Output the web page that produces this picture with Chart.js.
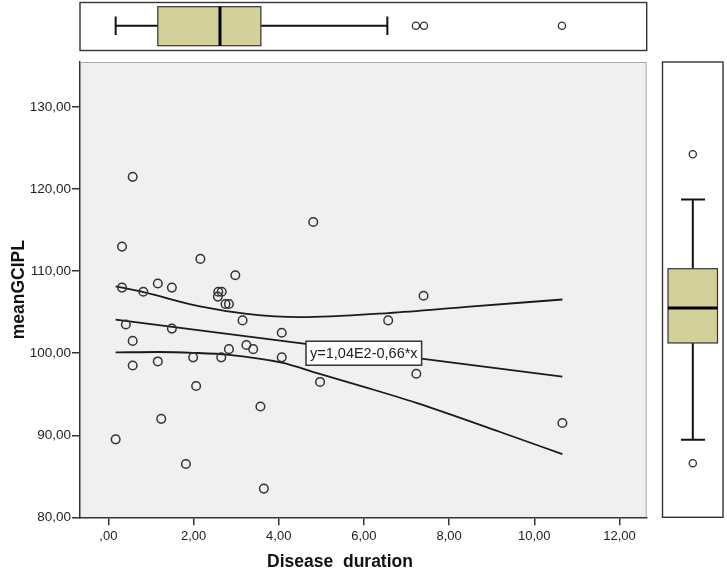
<!DOCTYPE html>
<html>
<head>
<meta charset="utf-8">
<script src="https://cdn.jsdelivr.net/npm/chart.js@4.4.1/dist/chart.umd.min.js"></script>
<style>
  html, body { margin: 0; padding: 0; background: #fff; }
  #wrap { width: 727px; height: 572px; }
</style>
</head>
<body>
<div id="wrap"><canvas id="scatter" width="727" height="572"></canvas></div>
<script>
// values
const duration = [0.57, 4.81, 0.32, 2.16, 2.98, 0.32, 0.82, 1.16, 1.49, 2.58,
                  2.66, 2.57, 2.75, 2.83, 3.15, 0.41, 1.49, 4.07, 0.57, 2.83,
                  3.24, 3.40, 1.99, 2.65, 4.07, 0.57, 1.16, 4.97, 2.06, 3.57,
                  1.24, 0.17, 1.82, 3.65, 7.40, 6.57, 7.23, 10.66];
const gcipl = [121.5, 116.0, 113.0, 111.5, 109.5, 108.0, 107.5, 108.5, 108.0, 107.5,
               107.5, 106.9, 106.0, 106.0, 104.0, 103.5, 103.0, 102.5, 101.5, 100.5,
               101.0, 100.5, 99.5, 99.5, 99.5, 98.5, 99.0, 96.5, 96.0, 93.5,
               92.0, 89.5, 86.5, 83.5, 107.0, 104.0, 97.5, 91.5];

// fit line and mean confidence bands
const fitX = [0.17, 10.66];
const fitY = [104.1, 97.15];
const upperX = [0.17, 0.82, 2.15, 3.25, 4.50, 6.57, 8.41, 10.66];
const upperY = [108.15, 107.45, 105.7, 104.8, 104.4, 104.9, 105.65, 106.55];
const lowerX = [0.17, 1.16, 1.99, 2.83, 4.07, 4.94, 6.0, 7.23, 9.20, 10.66];
const lowerY = [100.1, 100.15, 100.05, 99.8, 98.85, 97.5, 95.9, 93.95, 90.4, 87.7];
const fitLabel = 'y=1,04E2-0,66*x';
const fitLabelAt = [4.64, 100.0];

// box plots: [lower whisker, q1, median, q3, upper whisker]
const durationBox = [0.17, 1.16, 2.62, 3.58, 6.55];
const durationOutliers = [7.22, 7.41, 10.65];
const gciplBox = [89.45, 101.25, 105.5, 110.3, 118.75];
const gciplOutliers = [86.6, 124.25];

// ticks
const xTicks = [0, 2, 4, 6, 8, 10, 12];
const yTicks = [80, 90, 100, 110, 120, 130];

const FONT = '"Liberation Sans", Arial, sans-serif';
const BOX_FILL = '#d4d09a';

function fmt(v) {
  if (v === 0) return ',00';
  return v.toFixed(2).replace('.', ',');
}

function pairs(xs, ys) {
  return xs.map((x, i) => ({ x: x, y: ys[i] }));
}

function circle(ctx, x, y, r) {
  ctx.beginPath();
  ctx.arc(x, y, r, 0, Math.PI * 2);
  ctx.fillStyle = '#fff';
  ctx.fill();
  ctx.stroke();
}

const panels = {
  id: 'panels',
  beforeDraw(chart) {
    const { ctx, chartArea: a } = chart;
    ctx.save();
    ctx.fillStyle = '#f0f0f0';
    ctx.fillRect(a.left, a.top, a.right - a.left, a.bottom - a.top);
    ctx.restore();
  },
  afterDraw(chart) {
    const { ctx, chartArea: a } = chart;
    const xs = chart.scales.x;
    const ys = chart.scales.y;
    ctx.save();

    // light frame on top/right of the plot
    ctx.strokeStyle = '#a8a8a8';
    ctx.lineWidth = 1;
    ctx.beginPath();
    ctx.moveTo(a.left, a.top + 0.5);
    ctx.lineTo(a.right - 0.5, a.top + 0.5);
    ctx.lineTo(a.right - 0.5, a.bottom);
    ctx.stroke();

    // fit label
    ctx.font = '14.5px ' + FONT;
    const tw = ctx.measureText(fitLabel).width;
    const lx = xs.getPixelForValue(fitLabelAt[0]);
    const ly = ys.getPixelForValue(fitLabelAt[1]);
    ctx.fillStyle = '#fff';
    ctx.fillRect(lx, ly - 12, tw + 8, 24);
    ctx.strokeStyle = '#333';
    ctx.lineWidth = 1.5;
    ctx.strokeRect(lx, ly - 12, tw + 8, 24);
    ctx.fillStyle = '#222';
    ctx.textBaseline = 'middle';
    ctx.textAlign = 'left';
    ctx.fillText(fitLabel, lx + 4, ly + 1);

    // axis titles
    ctx.font = 'bold 17.5px ' + FONT;
    ctx.fillStyle = '#111';
    ctx.textAlign = 'center';
    ctx.textBaseline = 'alphabetic';
    ctx.fillText('Disease  duration', 340, 567);
    ctx.save();
    ctx.translate(24, (a.top + a.bottom) / 2);
    ctx.rotate(-Math.PI / 2);
    ctx.fillText('meanGCIPL', 0, 0);
    ctx.restore();

    // top box plot panel (duration)
    ctx.fillStyle = '#fff';
    ctx.fillRect(a.left, 2.5, a.right - a.left, 48);
    ctx.strokeStyle = '#333';
    ctx.lineWidth = 1.4;
    ctx.strokeRect(a.left, 2.5, a.right - a.left, 48);
    const px = durationBox.map(v => xs.getPixelForValue(v));
    const midY = 25.7;
    ctx.lineWidth = 2;
    ctx.strokeStyle = '#111';
    ctx.beginPath();
    ctx.moveTo(px[0], midY); ctx.lineTo(px[1], midY);
    ctx.moveTo(px[3], midY); ctx.lineTo(px[4], midY);
    ctx.moveTo(px[0], 16.5); ctx.lineTo(px[0], 35);
    ctx.moveTo(px[4], 16.5); ctx.lineTo(px[4], 35);
    ctx.stroke();
    ctx.fillStyle = BOX_FILL;
    ctx.fillRect(px[1], 6.7, px[3] - px[1], 39);
    ctx.lineWidth = 1.2;
    ctx.strokeStyle = '#333';
    ctx.strokeRect(px[1], 6.7, px[3] - px[1], 39);
    ctx.lineWidth = 3;
    ctx.strokeStyle = '#000';
    ctx.beginPath();
    ctx.moveTo(px[2], 6.7); ctx.lineTo(px[2], 45.7);
    ctx.stroke();
    ctx.lineWidth = 1.3;
    ctx.strokeStyle = '#333';
    durationOutliers.forEach(v => circle(ctx, xs.getPixelForValue(v), midY, 3.6));

    // right box plot panel (meanGCIPL)
    const rl = 662.5, rr = 723;
    ctx.fillStyle = '#fff';
    ctx.fillRect(rl, a.top, rr - rl, a.bottom - a.top);
    ctx.strokeStyle = '#333';
    ctx.lineWidth = 1.4;
    ctx.strokeRect(rl, a.top, rr - rl, a.bottom - a.top);
    const py = gciplBox.map(v => ys.getPixelForValue(v));
    const midX = 692.8;
    ctx.lineWidth = 2;
    ctx.strokeStyle = '#111';
    ctx.beginPath();
    ctx.moveTo(midX, py[0]); ctx.lineTo(midX, py[1]);
    ctx.moveTo(midX, py[3]); ctx.lineTo(midX, py[4]);
    ctx.moveTo(681, py[0]); ctx.lineTo(705, py[0]);
    ctx.moveTo(681, py[4]); ctx.lineTo(705, py[4]);
    ctx.stroke();
    ctx.fillStyle = BOX_FILL;
    ctx.fillRect(668, py[3], 49.5, py[1] - py[3]);
    ctx.lineWidth = 1.2;
    ctx.strokeStyle = '#333';
    ctx.strokeRect(668, py[3], 49.5, py[1] - py[3]);
    ctx.lineWidth = 3;
    ctx.strokeStyle = '#000';
    ctx.beginPath();
    ctx.moveTo(668, py[2]); ctx.lineTo(717.5, py[2]);
    ctx.stroke();
    ctx.lineWidth = 1.3;
    ctx.strokeStyle = '#333';
    gciplOutliers.forEach(v => circle(ctx, midX, ys.getPixelForValue(v), 3.6));

    ctx.restore();
  }
};

const lineStyle = {
  type: 'line',
  showLine: true,
  pointRadius: 0,
  borderColor: '#1a1a1a',
  borderWidth: 1.8,
  fill: false
};

new Chart(document.getElementById('scatter'), {
  type: 'scatter',
  data: {
    datasets: [
      {
        label: 'meanGCIPL',
        data: pairs(duration, gcipl),
        pointRadius: 4.3,
        pointBorderWidth: 1.5,
        pointBorderColor: '#333',
        pointBackgroundColor: 'rgba(0,0,0,0)'
      },
      Object.assign({ label: 'fit', data: pairs(fitX, fitY) }, lineStyle),
      Object.assign({ label: 'upper', data: pairs(upperX, upperY), cubicInterpolationMode: 'monotone' }, lineStyle),
      Object.assign({ label: 'lower', data: pairs(lowerX, lowerY), cubicInterpolationMode: 'monotone' }, lineStyle)
    ]
  },
  options: {
    responsive: false,
    animation: false,
    layout: { padding: { top: 62, right: 80.3, left: 0, bottom: 0 } },
    plugins: { legend: { display: false }, tooltip: { enabled: false } },
    scales: {
      x: {
        type: 'linear',
        min: -0.667,
        max: 12.64,
        afterBuildTicks: s => { s.ticks = xTicks.map(v => ({ value: v })); },
        afterFit: s => { s.height = 54.7; },
        ticks: {
          callback: v => fmt(v),
          color: '#222',
          padding: 3,
          maxRotation: 0,
          font: { family: FONT, size: 13 }
        },
        grid: { drawOnChartArea: false, drawTicks: true, tickLength: 8, color: '#333', lineWidth: 1.5 },
        border: { display: true, color: '#333', width: 1.5 }
      },
      y: {
        type: 'linear',
        min: 80,
        max: 135.5,
        afterBuildTicks: s => { s.ticks = yTicks.map(v => ({ value: v })); },
        afterFit: s => { s.width = 80; },
        ticks: {
          callback: v => fmt(v),
          color: '#222',
          padding: 1,
          font: { family: FONT, size: 13.5 }
        },
        grid: { drawOnChartArea: false, drawTicks: true, tickLength: 8, color: '#333', lineWidth: 1.5 },
        border: { display: true, color: '#333', width: 1.5 }
      }
    }
  },
  plugins: [panels]
});
</script>
</body>
</html>
